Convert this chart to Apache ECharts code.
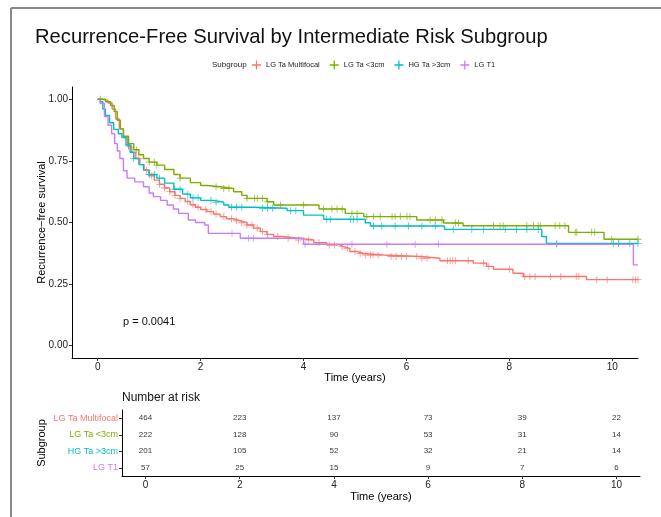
<!DOCTYPE html>
<html>
<head>
<meta charset="utf-8">
<script src="https://cdn.jsdelivr.net/npm/echarts@6/dist/echarts.min.js"></script>
<style>
  html, body { margin: 0; padding: 0; background: #fff; }
  #chart { width: 661px; height: 517px; }
</style>
</head>
<body>
<div id="chart"></div>
<script>
// survival step points
const groups = ['LG Ta Multifocal', 'LG Ta <3cm', 'HG Ta >3cm', 'LG T1'];
const colors = ['#F8766D', '#7CAE00', '#00BFC4', '#C77CFF'];

const multifocalTime = [0, 0.1, 0.2, 0.28, 0.35, 0.42, 0.5, 0.58, 0.66, 0.74, 0.82, 0.9, 1.0, 1.1, 1.2, 1.3, 1.4, 1.5, 1.6, 1.7, 1.8, 1.9, 2.0, 2.12, 2.25, 2.38, 2.5, 2.64, 2.77, 2.9, 3.03, 3.16, 3.29, 3.42, 3.6, 3.9, 4.2, 4.45, 4.7, 4.77, 4.9, 5.05, 5.17, 5.55, 6.27, 6.65, 7.3, 7.56, 7.69, 8.07, 8.27, 9.5, 10.5];
const multifocalSurv = [1.0, 0.995, 0.985, 0.96, 0.92, 0.88, 0.845, 0.81, 0.785, 0.76, 0.735, 0.712, 0.69, 0.672, 0.655, 0.64, 0.625, 0.61, 0.598, 0.585, 0.572, 0.562, 0.553, 0.544, 0.534, 0.524, 0.515, 0.507, 0.499, 0.49, 0.477, 0.463, 0.452, 0.443, 0.436, 0.429, 0.418, 0.409, 0.402, 0.395, 0.382, 0.374, 0.368, 0.362, 0.355, 0.345, 0.335, 0.322, 0.31, 0.294, 0.281, 0.268, 0.268];

const lt3Time = [0, 0.15, 0.25, 0.32, 0.38, 0.44, 0.5, 0.6, 0.7, 0.8, 0.89, 1.0, 1.15, 1.3, 1.48, 1.6, 1.8, 2.0, 2.12, 2.38, 2.64, 2.8, 2.9, 3.29, 3.42, 4.3, 4.81, 5.17, 6.2, 6.72, 7.1, 9.15, 9.84, 10.5];
const lt3Surv = [1.0, 0.99, 0.975, 0.95, 0.915, 0.88, 0.85, 0.82, 0.795, 0.775, 0.76, 0.745, 0.733, 0.715, 0.695, 0.68, 0.662, 0.65, 0.645, 0.638, 0.625, 0.61, 0.598, 0.584, 0.571, 0.555, 0.537, 0.524, 0.51, 0.498, 0.487, 0.46, 0.432, 0.432];

const gt3Time = [0, 0.05, 0.1, 0.15, 0.23, 0.31, 0.4, 0.47, 0.55, 0.63, 0.7, 0.8, 0.89, 1.0, 1.15, 1.3, 1.48, 1.65, 1.8, 2.0, 2.25, 2.45, 2.55, 3.03, 3.68, 4.0, 4.39, 5.2, 5.3, 6.74, 8.63, 8.72, 10.5];
const gt3Surv = [1.0, 0.99, 0.96, 0.935, 0.905, 0.878, 0.86, 0.845, 0.815, 0.785, 0.76, 0.735, 0.712, 0.695, 0.68, 0.66, 0.635, 0.615, 0.6, 0.59, 0.582, 0.571, 0.562, 0.558, 0.548, 0.53, 0.513, 0.499, 0.486, 0.472, 0.443, 0.415, 0.415];

const t1Time = [0, 0.05, 0.13, 0.2, 0.27, 0.33, 0.38, 0.43, 0.5, 0.57, 0.72, 0.89, 1.0, 1.08, 1.22, 1.35, 1.47, 1.57, 1.76, 1.9, 2.08, 2.15, 2.77, 4.0, 10.41, 10.5];
const t1Surv = [1.0, 0.983, 0.93, 0.895, 0.86, 0.82, 0.79, 0.76, 0.71, 0.68, 0.665, 0.645, 0.62, 0.605, 0.59, 0.571, 0.555, 0.537, 0.51, 0.5, 0.49, 0.456, 0.436, 0.412, 0.328, 0.328];

// censor mark times
const multifocalCens = [0.6, 0.8, 0.95, 1.05, 1.2, 1.3, 1.4, 1.5, 1.6, 1.75, 1.85, 1.95, 2.1, 2.2, 2.3, 2.45, 2.6, 2.7, 2.8, 2.9, 3.0, 3.1, 3.2, 3.3, 3.5, 3.7, 3.9, 4.1, 4.3, 4.5, 4.6, 4.75, 4.85, 5.0, 5.1, 5.2, 5.3, 5.35, 5.45, 5.7, 5.8, 5.9, 6.0, 6.2, 6.3, 6.4, 6.8, 6.85, 6.9, 6.95, 7.2, 7.5, 7.6, 8.0, 8.3, 8.4, 8.5, 8.8, 9.0, 9.3, 9.35, 9.7, 9.9, 10.4, 10.45, 10.5];
const lt3Cens = [0.05, 0.75, 1.0, 1.1, 1.15, 1.6, 2.3, 2.45, 2.55, 2.9, 3.05, 3.1, 3.2, 3.3, 3.55, 4.0, 4.39, 4.55, 4.65, 4.75, 4.94, 5.04, 5.23, 5.36, 5.49, 5.72, 5.78, 5.88, 6.01, 6.07, 6.46, 6.56, 6.69, 6.95, 7.01, 7.69, 7.82, 7.88, 8.34, 8.47, 8.56, 8.6, 8.89, 8.98, 9.08, 9.28, 9.31, 9.6, 9.66, 9.99, 10.5];
const gt3Cens = [0.6, 0.7, 1.0, 1.1, 1.2, 1.5, 1.6, 1.75, 1.85, 1.95, 2.2, 2.3, 2.6, 2.7, 2.8, 3.2, 3.3, 3.4, 3.75, 3.85, 4.45, 4.52, 4.91, 4.97, 5.04, 5.36, 5.52, 5.78, 6.04, 6.3, 6.56, 6.91, 7.27, 7.5, 7.92, 8.14, 8.34, 8.56, 8.92, 10.02, 10.12, 10.34, 10.5];
const t1Cens = [2.61, 2.93, 3.03, 4.03, 4.94, 5.62, 6.17, 6.62, 8.92];

// number at risk table
const riskTimes = [0, 2, 4, 6, 8, 10];
const riskMultifocal = [464, 223, 137, 73, 39, 22];
const riskLt3 = [222, 128, 90, 53, 31, 14];
const riskGt3 = [201, 105, 52, 32, 21, 14];
const riskT1 = [57, 25, 15, 9, 7, 6];

const xTicks = [0, 2, 4, 6, 8, 10];
const yTicks = [0, 0.25, 0.5, 0.75, 1.0];

const curves = [
  [multifocalTime, multifocalSurv, multifocalCens],
  [lt3Time, lt3Surv, lt3Cens],
  [gt3Time, gt3Surv, gt3Cens],
  [t1Time, t1Surv, t1Cens]
];
const risks = [riskMultifocal, riskLt3, riskGt3, riskT1];

function survAt(times, surv, t) {
  let s = surv[0];
  for (let i = 0; i < times.length; i++) {
    if (times[i] <= t) s = surv[i];
  }
  return s;
}

const FONT = 'Liberation Sans, Arial, Helvetica, sans-serif';
const plusIcon = 'path://M0,4.3h10v1.4h-10z M4.3,0h1.4v10h-1.4z';
const censSymbol = 'path://M4.4,0h1.2v10h-1.2z M0,4.4h10v1.2h-10z';

const series = [];
curves.forEach(([times, surv, cens], i) => {
  series.push({
    name: groups[i],
    type: 'line',
    step: 'end',
    showSymbol: false,
    xAxisIndex: 0,
    yAxisIndex: 0,
    lineStyle: { width: 1.4, color: colors[i] },
    itemStyle: { color: colors[i] },
    data: times.map((t, k) => [t, surv[k]]),
    z: 2
  });
  series.push({
    name: groups[i],
    type: 'scatter',
    symbol: censSymbol,
    symbolSize: 7,
    xAxisIndex: 0,
    yAxisIndex: 0,
    itemStyle: { color: colors[i] },
    data: cens.map(t => [t, survAt(times, surv, t)]),
    z: 3
  });
});

risks.forEach((vals, i) => {
  series.push({
    type: 'scatter',
    symbolSize: 0,
    xAxisIndex: 1,
    yAxisIndex: 1,
    silent: true,
    label: {
      show: true,
      position: 'inside',
      formatter: p => p.value[2],
      color: '#000',
      fontSize: 8,
      fontFamily: FONT
    },
    data: riskTimes.map((t, k) => [t, groups[i], vals[k]])
  });
});

const line = () => ({ show: true, onZero: false, lineStyle: { color: '#000', width: 1 } });
const tick = vals => ({ show: true, length: 3, customValues: vals, lineStyle: { color: '#333' } });

const chart = echarts.init(document.getElementById('chart'));
chart.setOption({
  backgroundColor: '#fff',
  animation: false,
  textStyle: { fontFamily: FONT },
  title: {
    text: 'Recurrence-Free Survival by Intermediate Risk Subgroup',
    left: 30,
    top: 22,
    textStyle: { fontSize: 20.2, fontWeight: 'normal', color: '#111', fontFamily: FONT }
  },
  legend: {
    data: groups,
    left: 252,
    top: 60.5,
    padding: 0,
    icon: plusIcon,
    itemWidth: 11,
    itemHeight: 9,
    itemGap: 10,
    textStyle: { fontSize: 7.5, color: '#222', fontFamily: FONT, padding: [0, 0, 0, -1] }
  },
  grid: [
    { left: 72, right: 23, top: 87, height: 271 },
    { left: 122, right: 21, top: 410, height: 66 }
  ],
  xAxis: [
    {
      type: 'value', gridIndex: 0, min: -0.5, max: 10.5,
      name: 'Time (years)', nameLocation: 'middle', nameGap: 14, nameMoveOverlap: false,
      nameTextStyle: { fontSize: 11, color: '#000' },
      axisLine: line(), splitLine: { show: false },
      axisTick: tick(xTicks),
      axisLabel: { customValues: xTicks, fontSize: 10, color: '#222', margin: 4 }
    },
    {
      type: 'value', gridIndex: 1, min: -0.5, max: 10.5, position: 'bottom',
      name: 'Time (years)', nameLocation: 'middle', nameGap: 15, nameMoveOverlap: false,
      nameTextStyle: { fontSize: 11, color: '#000' },
      axisLine: line(), splitLine: { show: false },
      axisTick: tick(xTicks),
      axisLabel: { customValues: xTicks, fontSize: 10, color: '#222', margin: 4 }
    }
  ],
  yAxis: [
    {
      type: 'value', gridIndex: 0, min: -0.05, max: 1.05,
      name: 'Recurrence\u2212free survival', nameLocation: 'middle', nameGap: 25, nameMoveOverlap: false,
      nameTextStyle: { fontSize: 11, color: '#000' },
      axisLine: line(), splitLine: { show: false },
      axisTick: tick(yTicks),
      axisLabel: { customValues: yTicks, fontSize: 10, color: '#222', margin: 4, formatter: v => v.toFixed(2) }
    },
    {
      type: 'category', gridIndex: 1, data: groups, inverse: true,
      name: 'Subgroup', nameLocation: 'middle', nameGap: 75, nameMoveOverlap: false,
      nameTextStyle: { fontSize: 11, color: '#000' },
      axisLine: line(), splitLine: { show: false },
      axisTick: { show: true, length: 3, alignWithLabel: true, lineStyle: { color: '#333' } },
      axisLabel: { fontSize: 9, margin: 4, color: (v) => colors[groups.indexOf(v)] }
    }
  ],
  graphic: [
    { type: 'line', shape: { x1: 11, y1: 8, x2: 661, y2: 8 }, style: { stroke: '#888', lineWidth: 2 } },
    { type: 'line', shape: { x1: 11, y1: 8, x2: 11, y2: 517 }, style: { stroke: '#888', lineWidth: 2 } },
    { type: 'text', x: 212, y: 65, style: { text: 'Subgroup', fontSize: 8, fill: '#222', fontFamily: FONT, verticalAlign: 'middle' } },
    { type: 'text', left: 123, top: 316, style: { text: 'p = 0.0041', fontSize: 11, fill: '#111', fontFamily: FONT } },
    { type: 'text', left: 122, top: 392, style: { text: 'Number at risk', fontSize: 12, fill: '#111', fontFamily: FONT } }
  ],
  series: series
});
window.addEventListener('resize', () => chart.resize());
</script>
</body>
</html>
